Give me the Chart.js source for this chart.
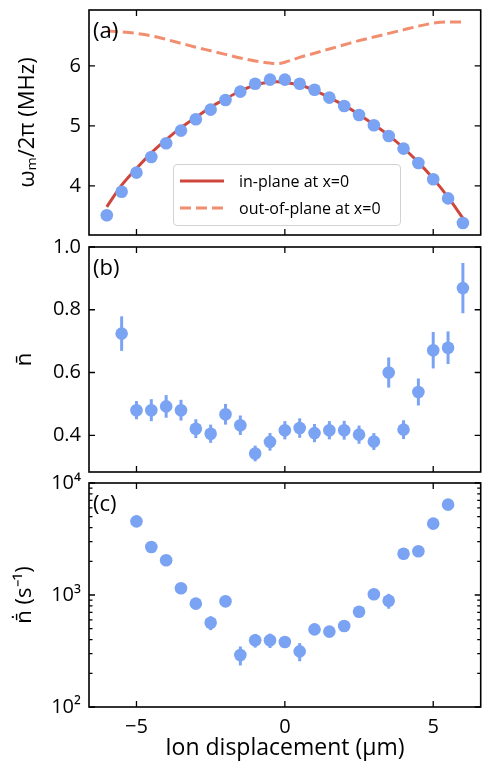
<!DOCTYPE html>
<html>
<head>
<meta charset="utf-8">
<script src="https://cdn.jsdelivr.net/npm/chart.js@4.4.1/dist/chart.umd.min.js"></script>
<style>
  body { margin: 0; background: #fff; overflow: hidden; }
  #fig { position: relative; width: 487px; height: 762px; font-family: 'Open Sans', sans-serif; }
  #fig canvas { position: absolute; left: 0; }
  #legend {
    position: absolute; left: 173px; top: 164px; width: 226px; height: 60px;
    border: 1px solid #d2d2d2; border-radius: 4px; background: rgba(255, 255, 255, 0.85);
  }
  #legend .row { position: absolute; left: 6px; height: 26px; display: flex; align-items: center; }
  #legend .row span { margin-left: 15px; font-size: 16px; color: #000; }
</style>
</head>
<body>
<div id="fig">
  <canvas id="freqChart" width="487" height="265" style="top:-10px"></canvas>
  <canvas id="nbarChart" width="487" height="266" style="top:226px"></canvas>
  <canvas id="rateChart" width="487" height="299" style="top:463px"></canvas>
  <div id="legend"></div>
</div>
<script>
// (a) motional frequency vs ion displacement
const freqX = [-6, -5.5, -5, -4.5, -4, -3.5, -3, -2.5, -2, -1.5, -1, -0.5, 0, 0.5, 1, 1.5, 2, 2.5, 3, 3.5, 4, 4.5, 5, 5.5, 6];
const freqMeasured = [3.51, 3.90, 4.22, 4.48, 4.71, 4.92, 5.11, 5.27, 5.43, 5.57, 5.70, 5.77, 5.77, 5.70, 5.60, 5.47, 5.33, 5.18, 5.01, 4.83, 4.62, 4.38, 4.11, 3.79, 3.38];
// model curves at x=0
const curveX = [-6, -5.5, -5, -4.5, -4, -3.5, -3, -2.5, -2, -1.5, -1, -0.5, -0.25, 0, 0.5, 1, 1.5, 2, 2.5, 3, 3.5, 4, 4.5, 5, 5.5, 6];
const inPlaneCurve = [3.65, 4.01, 4.29, 4.55, 4.77, 4.97, 5.14, 5.31, 5.45, 5.58, 5.68, 5.73, 5.735, 5.72, 5.68, 5.59, 5.47, 5.34, 5.19, 5.02, 4.84, 4.63, 4.39, 4.12, 3.81, 3.46];
const outOfPlaneCurve = [6.58, 6.565, 6.54, 6.50, 6.44, 6.375, 6.31, 6.25, 6.19, 6.13, 6.08, 6.045, 6.035, 6.06, 6.14, 6.21, 6.28, 6.35, 6.42, 6.48, 6.54, 6.60, 6.66, 6.71, 6.73, 6.73];

// (b) mean phonon number
const nbarX = [-5.5, -5, -4.5, -4, -3.5, -3, -2.5, -2, -1.5, -1, -0.5, 0, 0.5, 1, 1.5, 2, 2.5, 3, 3.5, 4, 4.5, 5, 5.5, 6];
const nbar = [0.724, 0.480, 0.480, 0.492, 0.480, 0.421, 0.405, 0.467, 0.432, 0.342, 0.379, 0.416, 0.423, 0.407, 0.416, 0.416, 0.402, 0.380, 0.600, 0.418, 0.538, 0.671, 0.679, 0.869];
const nbarErr = [0.055, 0.029, 0.035, 0.036, 0.033, 0.030, 0.029, 0.033, 0.031, 0.025, 0.028, 0.029, 0.031, 0.029, 0.029, 0.030, 0.029, 0.027, 0.048, 0.030, 0.043, 0.058, 0.052, 0.080];

// (c) heating rate (1/s)
const rateX = [-5, -4.5, -4, -3.5, -3, -2.5, -2, -1.5, -1, -0.5, 0, 0.5, 1, 1.5, 2, 2.5, 3, 3.5, 4, 4.5, 5, 5.5];
const rate = [4546, 2683, 2042, 1148, 837, 566, 878, 291, 394, 394, 380, 314, 493, 471, 528, 709, 1014, 889, 2338, 2455, 4339, 6408];
const rateErr = [350, 200, 160, 90, 70, 80, 70, 56, 55, 58, 40, 58, 40, 40, 45, 55, 80, 135, 180, 190, 330, 480];

// axis ticks
const xTickValues = [-5, 0, 5];
const freqTicks = [4, 5, 6];
const nbarTicks = [0.4, 0.6, 0.8, 1.0];
const rateTicks = [100, 1000, 10000];
const rateMinorTicks = [200, 300, 400, 500, 600, 700, 800, 900, 2000, 3000, 4000, 5000, 6000, 7000, 8000, 9000];
const superscripts = { 2: '\u00B2', 3: '\u00B3', 4: '\u2074' };

const BLUE = '#7ba3f3';
const RED = '#cf463c';
const SALMON = '#f28e70';

Chart.defaults.font.family = "'Open Sans', sans-serif";
Chart.defaults.color = '#000';

const pts = (xs, ys) => xs.map((x, i) => ({ x, y: ys[i] }));

// vertical error bars, drawn under the markers
Chart.register({
  id: 'errorBars',
  beforeDatasetsDraw(chart) {
    const { ctx, scales } = chart;
    chart.data.datasets.forEach(ds => {
      if (!ds.errorBars) return;
      ctx.save();
      ctx.strokeStyle = ds.pointBackgroundColor;
      ctx.lineWidth = 3;
      ds.data.forEach((p, i) => {
        const e = ds.errorBars[i];
        const px = scales.x.getPixelForValue(p.x);
        ctx.beginPath();
        ctx.moveTo(px, scales.y.getPixelForValue(p.y - e));
        ctx.lineTo(px, scales.y.getPixelForValue(p.y + e));
        ctx.stroke();
      });
      ctx.restore();
    });
  }
});

// box frame with inward ticks on all four sides
Chart.register({
  id: 'frameTicks',
  afterDraw(chart) {
    const { ctx, chartArea: a, scales } = chart;
    ctx.save();
    ctx.strokeStyle = '#000';
    ctx.lineWidth = 1.3;
    ctx.beginPath();
    xTickValues.forEach(v => {
      const px = scales.x.getPixelForValue(v);
      ctx.moveTo(px, a.bottom); ctx.lineTo(px, a.bottom - 6);
      ctx.moveTo(px, a.top); ctx.lineTo(px, a.top + 6);
    });
    scales.y.ticks.forEach(t => {
      const py = scales.y.getPixelForValue(t.value);
      ctx.moveTo(a.left, py); ctx.lineTo(a.left + 6, py);
      ctx.moveTo(a.right, py); ctx.lineTo(a.right - 6, py);
    });
    if (scales.y.type === 'logarithmic') {
      rateMinorTicks.forEach(v => {
        const py = scales.y.getPixelForValue(v);
        ctx.moveTo(a.left, py); ctx.lineTo(a.left + 3.5, py);
        ctx.moveTo(a.right, py); ctx.lineTo(a.right - 3.5, py);
      });
    }
    ctx.stroke();
    ctx.lineWidth = 1.6;
    ctx.strokeRect(a.left, a.top, a.right - a.left, a.bottom - a.top);
    ctx.restore();
  }
});

// panel letter in the top-left corner
Chart.register({
  id: 'panelLabel',
  afterDraw(chart, args, opts) {
    if (!opts.text) return;
    const { ctx, chartArea: a } = chart;
    ctx.save();
    ctx.font = "22px 'Open Sans', sans-serif";
    ctx.fillStyle = '#000';
    ctx.textBaseline = 'middle';
    ctx.fillText(opts.text, a.left + 4, a.top + 22);
    ctx.restore();
  }
});

function xScale(showLabels) {
  return {
    type: 'linear', min: -6.6, max: 6.6, display: showLabels,
    afterBuildTicks: s => { s.ticks = xTickValues.map(v => ({ value: v })); },
    afterFit: s => { s.height = showLabels ? 55 : 0; },
    grid: { display: false, drawTicks: false },
    border: { display: false },
    ticks: {
      padding: 8, maxRotation: 0, font: { size: 20 },
      callback: v => (v < 0 ? '\u2212' + Math.abs(v) : String(v))
    },
    title: { display: showLabels, text: 'Ion displacement (\u03BCm)', font: { size: 23 }, padding: 0 }
  };
}

function yScale(extra, title, titlePad, tickValues, fmt) {
  return Object.assign({
    afterFit: s => { s.width = 89; },
    afterBuildTicks: s => { s.ticks = tickValues.map(v => ({ value: v })); },
    grid: { display: false, drawTicks: false },
    border: { display: false },
    ticks: { padding: 8, font: { size: 20 }, callback: fmt },
    title: { display: true, text: title, font: { size: 22 }, padding: { top: titlePad, bottom: 0 } }
  }, extra);
}

const baseOptions = (pad, scales, letter) => ({
  responsive: false,
  animation: false,
  devicePixelRatio: 1,
  layout: { padding: pad },
  plugins: { legend: { display: false }, tooltip: { enabled: false }, panelLabel: { text: letter } },
  scales
});

const markers = (xs, ys, errs) => ({
  data: pts(xs, ys),
  showLine: false,
  pointRadius: 6.3,
  pointHoverRadius: 6.3,
  pointBorderWidth: 0,
  pointBackgroundColor: BLUE,
  borderColor: BLUE,
  errorBars: errs
});

const freqChart = new Chart(document.getElementById('freqChart'), {
  type: 'line',
  data: {
    datasets: [
      markers(freqX, freqMeasured, null),
      {
        label: 'in-plane at x=0',
        data: pts(curveX, inPlaneCurve),
        borderColor: RED, borderWidth: 3, pointRadius: 0,
        cubicInterpolationMode: 'monotone'
      },
      {
        label: 'out-of-plane at x=0',
        data: pts(curveX, outOfPlaneCurve),
        borderColor: SALMON, borderWidth: 3, borderDash: [11, 5], pointRadius: 0,
        cubicInterpolationMode: 'monotone'
      }
    ]
  },
  options: baseOptions({ top: 20, bottom: 20, left: 0, right: 2 }, {
    x: xScale(false),
    y: yScale({ min: 3.18, max: 6.93 }, '\u03C9\u2098/2\u03C0 (MHz)', 15, freqTicks, v => String(v))
  }, '(a)')
});

new Chart(document.getElementById('nbarChart'), {
  type: 'line',
  data: { datasets: [markers(nbarX, nbar, nbarErr)] },
  options: baseOptions({ top: 21, bottom: 20, left: 0, right: 2 }, {
    x: xScale(false),
    y: yScale({ min: 0.283, max: 1.0 }, 'n\u0304', 12, nbarTicks, v => v.toFixed(1))
  }, '(b)')
});

new Chart(document.getElementById('rateChart'), {
  type: 'line',
  data: { datasets: [markers(rateX, rate, rateErr)] },
  options: baseOptions({ top: 20, bottom: 0, left: 0, right: 2 }, {
    x: xScale(true),
    y: yScale({ type: 'logarithmic', min: 100, max: 10000 }, 'n\u0304\u0307 (s\u207B\u00B9)', 12, rateTicks,
      v => '10' + superscripts[Math.round(Math.log10(v))])
  }, '(c)')
});

// legend for the two model curves in panel (a)
const legendBox = document.getElementById('legend');
freqChart.data.datasets.filter(ds => ds.label).forEach((ds, i) => {
  const row = document.createElement('div');
  row.className = 'row';
  row.style.top = (3 + i * 27) + 'px';
  const dash = ds.borderDash ? ` stroke-dasharray="${ds.borderDash.join(' ')}"` : '';
  row.innerHTML = `<svg width="44" height="6"><line x1="0" y1="3" x2="44" y2="3" stroke="${ds.borderColor}" stroke-width="3"${dash}/></svg><span>${ds.label}</span>`;
  legendBox.appendChild(row);
});
</script>
</body>
</html>
